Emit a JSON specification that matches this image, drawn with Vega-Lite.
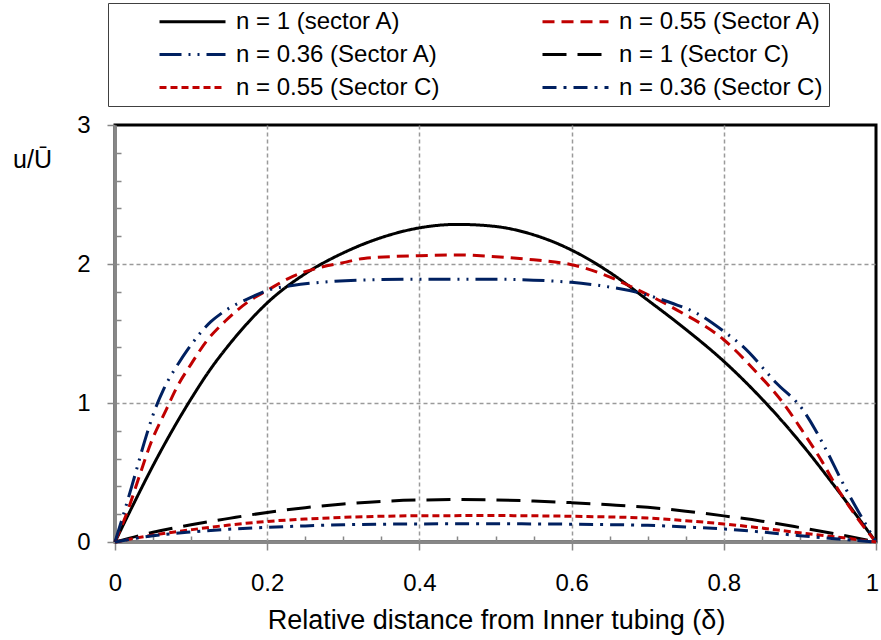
{
  "$schema": "https://vega.github.io/schema/vega-lite/v6.json",
  "width": 761,
  "height": 417,
  "autosize": {"type": "none"},
  "padding": {"left": 115, "top": 125, "right": 5, "bottom": 98},
  "background": "white",
  "config": {
    "font": "Liberation Sans",
    "view": {"stroke": "#000000", "strokeWidth": 3}
  },
  "datasets": {
    "curves": [
      {"series": "n = 1 (sector A)", "x": 0, "y": 0},
      {"series": "n = 1 (sector A)", "x": 0.025, "y": 0.28},
      {"series": "n = 1 (sector A)", "x": 0.05, "y": 0.55},
      {"series": "n = 1 (sector A)", "x": 0.075, "y": 0.80},
      {"series": "n = 1 (sector A)", "x": 0.1, "y": 1.03},
      {"series": "n = 1 (sector A)", "x": 0.125, "y": 1.24},
      {"series": "n = 1 (sector A)", "x": 0.15, "y": 1.42},
      {"series": "n = 1 (sector A)", "x": 0.175, "y": 1.58},
      {"series": "n = 1 (sector A)", "x": 0.2, "y": 1.72},
      {"series": "n = 1 (sector A)", "x": 0.25, "y": 1.93},
      {"series": "n = 1 (sector A)", "x": 0.3, "y": 2.08},
      {"series": "n = 1 (sector A)", "x": 0.35, "y": 2.19},
      {"series": "n = 1 (sector A)", "x": 0.4, "y": 2.26},
      {"series": "n = 1 (sector A)", "x": 0.45, "y": 2.285},
      {"series": "n = 1 (sector A)", "x": 0.5, "y": 2.27},
      {"series": "n = 1 (sector A)", "x": 0.55, "y": 2.21},
      {"series": "n = 1 (sector A)", "x": 0.6, "y": 2.10},
      {"series": "n = 1 (sector A)", "x": 0.65, "y": 1.94},
      {"series": "n = 1 (sector A)", "x": 0.7, "y": 1.74},
      {"series": "n = 1 (sector A)", "x": 0.75, "y": 1.53},
      {"series": "n = 1 (sector A)", "x": 0.8, "y": 1.30},
      {"series": "n = 1 (sector A)", "x": 0.85, "y": 1.03},
      {"series": "n = 1 (sector A)", "x": 0.9, "y": 0.72},
      {"series": "n = 1 (sector A)", "x": 0.95, "y": 0.37},
      {"series": "n = 1 (sector A)", "x": 1, "y": 0},

      {"series": "n = 0.55 (Sector A)", "x": 0, "y": 0},
      {"series": "n = 0.55 (Sector A)", "x": 0.017, "y": 0.23},
      {"series": "n = 0.55 (Sector A)", "x": 0.033, "y": 0.49},
      {"series": "n = 0.55 (Sector A)", "x": 0.047, "y": 0.71},
      {"series": "n = 0.55 (Sector A)", "x": 0.068, "y": 0.96},
      {"series": "n = 0.55 (Sector A)", "x": 0.082, "y": 1.12},
      {"series": "n = 0.55 (Sector A)", "x": 0.1, "y": 1.28},
      {"series": "n = 0.55 (Sector A)", "x": 0.121, "y": 1.45},
      {"series": "n = 0.55 (Sector A)", "x": 0.145, "y": 1.59},
      {"series": "n = 0.55 (Sector A)", "x": 0.178, "y": 1.74},
      {"series": "n = 0.55 (Sector A)", "x": 0.2, "y": 1.81},
      {"series": "n = 0.55 (Sector A)", "x": 0.233, "y": 1.91},
      {"series": "n = 0.55 (Sector A)", "x": 0.266, "y": 1.97},
      {"series": "n = 0.55 (Sector A)", "x": 0.3, "y": 2.01},
      {"series": "n = 0.55 (Sector A)", "x": 0.327, "y": 2.04},
      {"series": "n = 0.55 (Sector A)", "x": 0.4, "y": 2.06},
      {"series": "n = 0.55 (Sector A)", "x": 0.45, "y": 2.065},
      {"series": "n = 0.55 (Sector A)", "x": 0.493, "y": 2.055},
      {"series": "n = 0.55 (Sector A)", "x": 0.55, "y": 2.03},
      {"series": "n = 0.55 (Sector A)", "x": 0.6, "y": 1.995},
      {"series": "n = 0.55 (Sector A)", "x": 0.637, "y": 1.935},
      {"series": "n = 0.55 (Sector A)", "x": 0.681, "y": 1.83},
      {"series": "n = 0.55 (Sector A)", "x": 0.738, "y": 1.67},
      {"series": "n = 0.55 (Sector A)", "x": 0.8, "y": 1.455},
      {"series": "n = 0.55 (Sector A)", "x": 0.843, "y": 1.22},
      {"series": "n = 0.55 (Sector A)", "x": 0.878, "y": 1.0},
      {"series": "n = 0.55 (Sector A)", "x": 0.902, "y": 0.81},
      {"series": "n = 0.55 (Sector A)", "x": 0.929, "y": 0.58},
      {"series": "n = 0.55 (Sector A)", "x": 0.95, "y": 0.38},
      {"series": "n = 0.55 (Sector A)", "x": 0.968, "y": 0.23},
      {"series": "n = 0.55 (Sector A)", "x": 0.991, "y": 0.06},
      {"series": "n = 0.55 (Sector A)", "x": 1, "y": 0},

      {"series": "n = 0.36 (Sector A)", "x": 0, "y": 0},
      {"series": "n = 0.36 (Sector A)", "x": 0.009, "y": 0.16},
      {"series": "n = 0.36 (Sector A)", "x": 0.022, "y": 0.40},
      {"series": "n = 0.36 (Sector A)", "x": 0.042, "y": 0.78},
      {"series": "n = 0.36 (Sector A)", "x": 0.051, "y": 0.93},
      {"series": "n = 0.36 (Sector A)", "x": 0.064, "y": 1.10},
      {"series": "n = 0.36 (Sector A)", "x": 0.084, "y": 1.29},
      {"series": "n = 0.36 (Sector A)", "x": 0.095, "y": 1.38},
      {"series": "n = 0.36 (Sector A)", "x": 0.126, "y": 1.585},
      {"series": "n = 0.36 (Sector A)", "x": 0.141, "y": 1.65},
      {"series": "n = 0.36 (Sector A)", "x": 0.183, "y": 1.77},
      {"series": "n = 0.36 (Sector A)", "x": 0.2, "y": 1.81},
      {"series": "n = 0.36 (Sector A)", "x": 0.233, "y": 1.845},
      {"series": "n = 0.36 (Sector A)", "x": 0.279, "y": 1.872},
      {"series": "n = 0.36 (Sector A)", "x": 0.327, "y": 1.885},
      {"series": "n = 0.36 (Sector A)", "x": 0.4, "y": 1.89},
      {"series": "n = 0.36 (Sector A)", "x": 0.5, "y": 1.89},
      {"series": "n = 0.36 (Sector A)", "x": 0.6, "y": 1.868},
      {"series": "n = 0.36 (Sector A)", "x": 0.637, "y": 1.845},
      {"series": "n = 0.36 (Sector A)", "x": 0.686, "y": 1.796},
      {"series": "n = 0.36 (Sector A)", "x": 0.734, "y": 1.714},
      {"series": "n = 0.36 (Sector A)", "x": 0.764, "y": 1.647},
      {"series": "n = 0.36 (Sector A)", "x": 0.8, "y": 1.515},
      {"series": "n = 0.36 (Sector A)", "x": 0.825, "y": 1.407},
      {"series": "n = 0.36 (Sector A)", "x": 0.869, "y": 1.144},
      {"series": "n = 0.36 (Sector A)", "x": 0.904, "y": 0.95},
      {"series": "n = 0.36 (Sector A)", "x": 0.92, "y": 0.81},
      {"series": "n = 0.36 (Sector A)", "x": 0.93, "y": 0.71},
      {"series": "n = 0.36 (Sector A)", "x": 0.961, "y": 0.376},
      {"series": "n = 0.36 (Sector A)", "x": 0.983, "y": 0.16},
      {"series": "n = 0.36 (Sector A)", "x": 1, "y": 0},

      {"series": "n = 1 (Sector C)", "x": 0, "y": 0},
      {"series": "n = 1 (Sector C)", "x": 0.05, "y": 0.07},
      {"series": "n = 1 (Sector C)", "x": 0.1, "y": 0.124},
      {"series": "n = 1 (Sector C)", "x": 0.15, "y": 0.17},
      {"series": "n = 1 (Sector C)", "x": 0.2, "y": 0.213},
      {"series": "n = 1 (Sector C)", "x": 0.25, "y": 0.247},
      {"series": "n = 1 (Sector C)", "x": 0.3, "y": 0.273},
      {"series": "n = 1 (Sector C)", "x": 0.35, "y": 0.292},
      {"series": "n = 1 (Sector C)", "x": 0.4, "y": 0.302},
      {"series": "n = 1 (Sector C)", "x": 0.45, "y": 0.305},
      {"series": "n = 1 (Sector C)", "x": 0.5, "y": 0.302},
      {"series": "n = 1 (Sector C)", "x": 0.55, "y": 0.295},
      {"series": "n = 1 (Sector C)", "x": 0.6, "y": 0.283},
      {"series": "n = 1 (Sector C)", "x": 0.65, "y": 0.268},
      {"series": "n = 1 (Sector C)", "x": 0.7, "y": 0.25},
      {"series": "n = 1 (Sector C)", "x": 0.75, "y": 0.222},
      {"series": "n = 1 (Sector C)", "x": 0.8, "y": 0.188},
      {"series": "n = 1 (Sector C)", "x": 0.85, "y": 0.15},
      {"series": "n = 1 (Sector C)", "x": 0.9, "y": 0.104},
      {"series": "n = 1 (Sector C)", "x": 0.95, "y": 0.055},
      {"series": "n = 1 (Sector C)", "x": 1, "y": 0},

      {"series": "n = 0.55 (Sector C)", "x": 0, "y": 0},
      {"series": "n = 0.55 (Sector C)", "x": 0.05, "y": 0.05},
      {"series": "n = 0.55 (Sector C)", "x": 0.1, "y": 0.088},
      {"series": "n = 0.55 (Sector C)", "x": 0.15, "y": 0.122},
      {"series": "n = 0.55 (Sector C)", "x": 0.2, "y": 0.148},
      {"series": "n = 0.55 (Sector C)", "x": 0.25, "y": 0.165},
      {"series": "n = 0.55 (Sector C)", "x": 0.3, "y": 0.177},
      {"series": "n = 0.55 (Sector C)", "x": 0.35, "y": 0.185},
      {"series": "n = 0.55 (Sector C)", "x": 0.4, "y": 0.189},
      {"series": "n = 0.55 (Sector C)", "x": 0.5, "y": 0.19},
      {"series": "n = 0.55 (Sector C)", "x": 0.6, "y": 0.185},
      {"series": "n = 0.55 (Sector C)", "x": 0.65, "y": 0.18},
      {"series": "n = 0.55 (Sector C)", "x": 0.7, "y": 0.172},
      {"series": "n = 0.55 (Sector C)", "x": 0.75, "y": 0.153},
      {"series": "n = 0.55 (Sector C)", "x": 0.8, "y": 0.13},
      {"series": "n = 0.55 (Sector C)", "x": 0.85, "y": 0.1},
      {"series": "n = 0.55 (Sector C)", "x": 0.9, "y": 0.066},
      {"series": "n = 0.55 (Sector C)", "x": 0.95, "y": 0.035},
      {"series": "n = 0.55 (Sector C)", "x": 1, "y": 0},

      {"series": "n = 0.36 (Sector C)", "x": 0, "y": 0},
      {"series": "n = 0.36 (Sector C)", "x": 0.05, "y": 0.045},
      {"series": "n = 0.36 (Sector C)", "x": 0.1, "y": 0.072},
      {"series": "n = 0.36 (Sector C)", "x": 0.15, "y": 0.092},
      {"series": "n = 0.36 (Sector C)", "x": 0.2, "y": 0.105},
      {"series": "n = 0.36 (Sector C)", "x": 0.25, "y": 0.116},
      {"series": "n = 0.36 (Sector C)", "x": 0.3, "y": 0.124},
      {"series": "n = 0.36 (Sector C)", "x": 0.35, "y": 0.128},
      {"series": "n = 0.36 (Sector C)", "x": 0.4, "y": 0.13},
      {"series": "n = 0.36 (Sector C)", "x": 0.5, "y": 0.131},
      {"series": "n = 0.36 (Sector C)", "x": 0.6, "y": 0.128},
      {"series": "n = 0.36 (Sector C)", "x": 0.65, "y": 0.125},
      {"series": "n = 0.36 (Sector C)", "x": 0.7, "y": 0.12},
      {"series": "n = 0.36 (Sector C)", "x": 0.75, "y": 0.108},
      {"series": "n = 0.36 (Sector C)", "x": 0.8, "y": 0.094},
      {"series": "n = 0.36 (Sector C)", "x": 0.85, "y": 0.072},
      {"series": "n = 0.36 (Sector C)", "x": 0.9, "y": 0.045},
      {"series": "n = 0.36 (Sector C)", "x": 0.95, "y": 0.022},
      {"series": "n = 0.36 (Sector C)", "x": 1, "y": 0}
    ]
  },
  "data": {"name": "curves"},
  "layer": [
    {
      "mark": {"type": "line", "opacity": 0},
      "encoding": {
        "x": {
          "field": "x", "type": "quantitative",
          "scale": {"domain": [0, 1], "nice": false},
          "axis": {
            "orient": "bottom", "title": null, "labels": false, "domain": false, "grid": false,
            "values": [0.05, 0.1, 0.15, 0.25, 0.3, 0.35, 0.45, 0.5, 0.55, 0.65, 0.7, 0.75, 0.85, 0.9, 0.95],
            "tickSize": -6, "tickColor": "#878787", "tickWidth": 1.5
          }
        },
        "y": {
          "field": "y", "type": "quantitative",
          "scale": {"domain": [0, 3], "nice": false},
          "axis": {
            "orient": "left", "title": null, "labels": false, "domain": false, "grid": false,
            "values": [0.2, 0.4, 0.6, 0.8, 1.2, 1.4, 1.6, 1.8, 2.2, 2.4, 2.6, 2.8],
            "tickSize": -6, "tickColor": "#878787", "tickWidth": 1.5
          }
        },
        "detail": {"field": "series"}
      }
    },
    {
      "mark": {"type": "line", "strokeWidth": 3, "interpolate": "monotone"},
      "encoding": {
        "x": {
          "field": "x", "type": "quantitative",
          "scale": {"domain": [0, 1], "nice": false},
          "axis": {
            "orient": "bottom",
            "values": [0, 0.2, 0.4, 0.6, 0.8, 1],
            "format": ".1~f",
            "labelFontSize": 24, "labelColor": "#000000", "labelPadding": 21,
            "labelFlush": false, "labelOverlap": false,
            "labelOffset": {"condition": {"test": "datum.value >= 1", "value": -4}, "value": 0},
            "domainColor": "#878787", "domainWidth": 3,
            "tickColor": "#878787", "tickWidth": 1.5, "tickSize": 8,
            "grid": true, "gridColor": "#9a9a9a", "gridDash": [4, 3], "gridWidth": 1.5,
            "gridOpacity": {"condition": {"test": "datum.value <= 0 || datum.value >= 1", "value": 0}, "value": 1},
            "title": "Relative distance from Inner tubing (δ)",
            "titleFontSize": 27, "titleFontWeight": "normal", "titleColor": "#000000",
            "titleBaseline": "alphabetic", "titleAlign": "center", "titleX": 381, "titleY": 86
          }
        },
        "y": {
          "field": "y", "type": "quantitative",
          "scale": {"domain": [0, 3], "nice": false},
          "axis": {
            "orient": "left",
            "values": [0, 1, 2, 3],
            "format": "d",
            "labelFontSize": 24, "labelColor": "#000000", "labelPadding": 17,
            "labelFlush": false, "labelOverlap": false,
            "domainColor": "#878787", "domainWidth": 3,
            "tickColor": "#878787", "tickWidth": 1.5, "tickSize": 8,
            "grid": true, "gridColor": "#9a9a9a", "gridDash": [4, 3], "gridWidth": 1.5,
            "gridOpacity": {"condition": {"test": "datum.value <= 0 || datum.value >= 3", "value": 0}, "value": 1},
            "title": "u/Ū",
            "titleAngle": 0, "titleFontSize": 25, "titleFontWeight": "normal", "titleColor": "#000000",
            "titleAlign": "center", "titleBaseline": "alphabetic", "titleX": -83, "titleY": 42
          }
        },
        "color": {
          "field": "series", "type": "nominal",
          "scale": {
            "domain": ["n = 1 (sector A)", "n = 0.55 (Sector A)", "n = 0.36 (Sector A)", "n = 1 (Sector C)", "n = 0.55 (Sector C)", "n = 0.36 (Sector C)"],
            "range": ["#000000", "#c00000", "#002060", "#000000", "#c00000", "#002060"]
          },
          "legend": {
            "orient": "none", "legendX": -7, "legendY": -122, "direction": "horizontal",
            "columns": 2, "columnPadding": 96, "rowPadding": 8, "padding": 6,
            "strokeColor": "#404040", "fillColor": "#ffffff",
            "title": " ", "titleOrient": "left", "titlePadding": 44, "titleFontSize": 24,
            "symbolType": "M-3,0H3", "symbolSize": 484, "symbolStrokeWidth": 3, "symbolOffset": 22,
            "labelOffset": 31, "labelFontSize": 24, "labelColor": "#000000", "labelLimit": 500,
            "labelExpr": "(datum.label == 'n = 0.55 (Sector A)' || datum.label == 'n = 1 (Sector C)' || datum.label == 'n = 0.36 (Sector C)') ? datum.label + '           ' : datum.label"
          }
        },
        "strokeDash": {
          "field": "series", "type": "nominal",
          "scale": {
            "domain": ["n = 1 (sector A)", "n = 0.55 (Sector A)", "n = 0.36 (Sector A)", "n = 1 (Sector C)", "n = 0.55 (Sector C)", "n = 0.36 (Sector C)"],
            "range": [[1, 0], [12, 7], [22, 7, 2, 7, 2, 7], [24, 11], [7, 4], [14, 7, 3, 7]]
          },
          "legend": {
            "orient": "none", "legendX": -7, "legendY": -122, "direction": "horizontal",
            "columns": 2, "columnPadding": 96, "rowPadding": 8, "padding": 6,
            "strokeColor": "#404040", "fillColor": "#ffffff",
            "title": " ", "titleOrient": "left", "titlePadding": 44, "titleFontSize": 24,
            "symbolType": "M-3,0H3", "symbolSize": 484, "symbolStrokeWidth": 3, "symbolOffset": 22,
            "labelOffset": 31, "labelFontSize": 24, "labelColor": "#000000", "labelLimit": 500,
            "labelExpr": "(datum.label == 'n = 0.55 (Sector A)' || datum.label == 'n = 1 (Sector C)' || datum.label == 'n = 0.36 (Sector C)') ? datum.label + '           ' : datum.label"
          }
        }
      }
    }
  ],
  "resolve": {"axis": {"x": "independent", "y": "independent"}}
}
